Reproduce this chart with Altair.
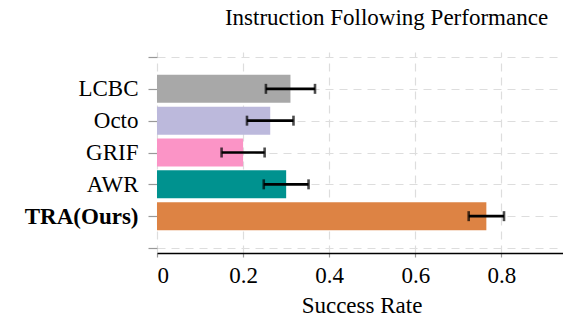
import altair as alt
import pandas as pd

categories = ["LCBC", "Octo", "GRIF", "AWR", "TRA(Ours)"]
values = [0.31, 0.263, 0.20, 0.30, 0.765]
errors = [0.057, 0.054, 0.05, 0.052, 0.041]
colors = ["#a8a8a8", "#bcb9dc", "#fb94c6", "#00928f", "#dd8344"]
x_ticks = [0, 0.2, 0.4, 0.6, 0.8]

df = pd.DataFrame({
    "cat": categories,
    "pos": list(range(len(categories))),
    "val": values,
    "err": errors,
    "color": colors,
})
df["lo"] = df["val"] - df["err"]
df["hi"] = df["val"] + df["err"]

FONT = "Liberation Serif"
FS = 23

label_expr = "''"
for i in range(len(categories) - 1, -1, -1):
    label_expr = "round(datum.value) == %d ? '%s' : (%s)" % (i, categories[i], label_expr)

xscale = alt.Scale(domain=[0, 0.95], nice=False, zero=True)
yscale = alt.Scale(domain=[-1, len(categories)], reverse=True, nice=False, zero=False)

xaxis = alt.Axis(
    values=x_ticks, title="Success Rate", titleFont=FONT, titleFontSize=FS,
    titleFontWeight="normal", titleColor="black", titlePadding=7,
    labelFont=FONT, labelFontSize=FS, labelColor="black", labelPadding=7,
    labelExpr="datum.value == 0 ? '0' : format(datum.value, '.1f')",
    labelOverlap=False,
    grid=True, gridColor="#dddddd", gridDash=[8, 6], gridWidth=1.2,
    domain=True, domainColor="black", domainWidth=1.3,
    ticks=True, tickColor="#999999", tickSize=4, tickWidth=1.2,
)
yaxis = alt.Axis(
    values=list(range(-1, len(categories) + 1)), title=None,
    labelExpr=label_expr,
    labelFont=FONT, labelFontSize=FS, labelColor="black", labelPadding=10,
    labelOverlap=False,
    labelFontWeight={"condition": {"test": "datum.value == %d" % (len(categories) - 1), "value": "bold"}, "value": "normal"},
    grid=True, gridColor="#dddddd", gridDash=[8, 6], gridWidth=1.2,
    domain=False, ticks=True, tickColor="#999999", tickSize=9, tickWidth=1.2,
)

Y = alt.Y("pos:Q", scale=yscale, axis=yaxis)

base = alt.Chart(df)

bars = base.mark_bar(orient="horizontal", height=28).encode(
    x=alt.X("val:Q", scale=xscale, axis=xaxis),
    y=Y,
    color=alt.Color("color:N", scale=None),
)
rule = base.mark_rule(color="black", strokeWidth=2.6).encode(
    x=alt.X("lo:Q", scale=xscale, axis=xaxis), x2="hi:Q", y=Y
)
cap_lo = base.mark_tick(color="black", orient="vertical", size=10, thickness=2.6).encode(
    x=alt.X("lo:Q", scale=xscale, axis=xaxis), y=Y
)
cap_hi = base.mark_tick(color="black", orient="vertical", size=10, thickness=2.6).encode(
    x=alt.X("hi:Q", scale=xscale, axis=xaxis), y=Y
)

chart = alt.layer(bars, rule, cap_lo, cap_hi).properties(
    width=409, height=201,
    background="white",
    title=alt.TitleParams(
        "Instruction Following Performance", font=FONT, fontSize=FS,
        fontWeight="normal", color="black", anchor="middle", dx=25, offset=16,
    ),
    autosize=alt.AutoSizeParams(type="none"),
    padding={"left": 149, "top": 44, "right": -3, "bottom": 65},
).configure_view(strokeWidth=0, stroke=None)

chart.save("out.html", embed_options={"renderer": "svg", "actions": False})
